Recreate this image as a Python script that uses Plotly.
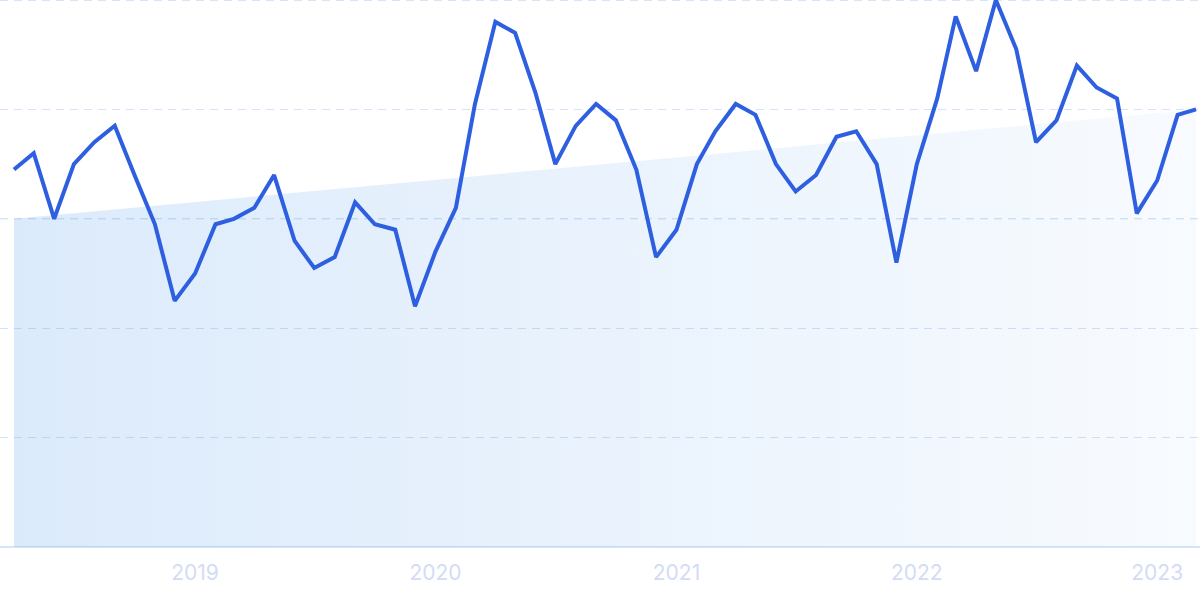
import pandas as pd
import plotly.graph_objects as go

# Monthly dates (Apr 2018 - Mar 2023)
months = pd.date_range("2018-04-01", "2023-03-01", freq="MS").strftime("%Y-%m-%d").tolist()

# Interest values (0-100 scale)
values = [69, 72, 60, 70, 74, 77, 68, 59, 45, 50,
          59, 60, 62, 68, 56, 51, 53, 63, 59, 58,
          44, 54, 62, 81, 96, 94, 83, 70, 77, 81,
          78, 69, 53, 58, 70, 76, 81, 79, 70, 65,
          68, 75, 76, 70, 52, 70, 82, 97, 87, 100,
          91, 74, 78, 88, 84, 82, 61, 67, 79, 80]

# Trend line endpoints
trend_start = 60
trend_end = 80

tick_dates = ["2019-01-01", "2020-01-01", "2021-01-01", "2022-01-01", "2023-01-01"]
tick_labels = ["2019", "2020", "2021", "2022", "2023"]

fig = go.Figure()

fig.add_trace(go.Scatter(
    x=[months[0], months[-1]],
    y=[trend_start, trend_end],
    mode="lines",
    line=dict(width=0, color="rgba(0,0,0,0)"),
    fill="tozeroy",
    fillgradient=dict(
        type="horizontal",
        colorscale=[[0, "rgba(46,134,232,0.17)"], [1, "rgba(46,134,232,0.035)"]],
    ),
    hoverinfo="skip",
    showlegend=False,
))

fig.add_trace(go.Scatter(
    x=months,
    y=values,
    mode="lines",
    line=dict(color="#2d5fe0", width=4),
    showlegend=False,
))

fig.add_shape(
    type="line", xref="paper", yref="y", x0=0, x1=1, y0=60, y1=60,
    line=dict(color="#b5e2fc", width=1, dash="8px,6px"), layer="below",
)
fig.add_shape(
    type="line", xref="paper", yref="paper", x0=0, x1=1, y0=0.999, y1=0.999,
    line=dict(color="#d3e3fa", width=1, dash="8px,6px"), layer="below",
)

fig.update_layout(
    width=1200, height=599,
    margin=dict(l=0, r=0, t=0, b=52),
    paper_bgcolor="white",
    plot_bgcolor="white",
    font=dict(family="Inter, sans-serif"),
)

fig.update_xaxes(
    type="date",
    range=["2018-03-10 18:00", "2023-03-07"],
    tickvals=tick_dates,
    ticktext=tick_labels,
    showgrid=False,
    zeroline=False,
    showline=False,
    tickfont=dict(size=21, color="#d3dcf5", family="Inter, sans-serif"),
    ticks="",
    ticklabelstandoff=11,
)

fig.update_yaxes(
    range=[0, 100],
    tickvals=[20, 40, 60, 80],
    showticklabels=False,
    showgrid=True,
    gridcolor="#d3e3fa",
    gridwidth=1,
    griddash="8px,6px",
    zeroline=True,
    zerolinecolor="#d6e5f8",
    zerolinewidth=2,
)

fig.write_html(
    "out.html",
    config={"displayModeBar": False},
    post_script="document.body.style.margin='0';document.body.style.overflow='hidden';",
)
